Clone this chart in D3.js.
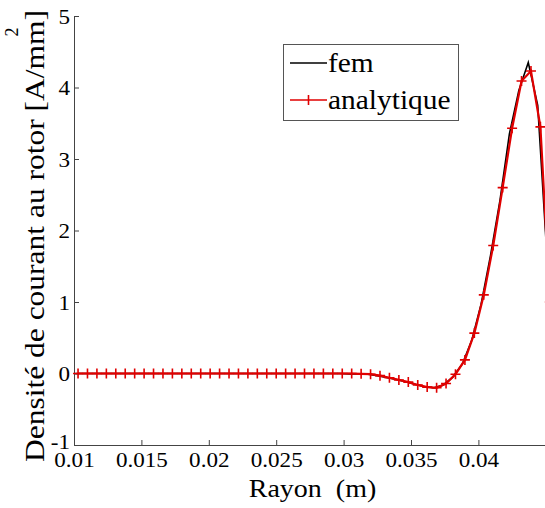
<!DOCTYPE html>
<html>
<head>
<meta charset="utf-8">
<script src="https://cdn.jsdelivr.net/npm/d3@7"></script>
<style>
  body { margin: 0; background: #fff; }
</style>
</head>
<body>
<script>
// sampled radii (m)
var radiusFem = [0.0101, 0.0108, 0.0115, 0.0122, 0.0129, 0.0136, 0.0143, 0.0150, 0.0157, 0.0164,
  0.0171, 0.0178, 0.0185, 0.0192, 0.0199, 0.0206, 0.0213, 0.0220, 0.0227, 0.0234,
  0.0241, 0.0248, 0.0255, 0.0262, 0.0269, 0.0276, 0.0283, 0.0290, 0.0297, 0.0304,
  0.0311, 0.0318, 0.0325, 0.0332, 0.0339, 0.0346, 0.0353, 0.0360, 0.0367, 0.0374,
  0.0381, 0.0388, 0.0395, 0.0402, 0.0409, 0.0416, 0.0423, 0.0430, 0.0437, 0.0444, 0.0451];
var densFem = [0, 0, 0, 0, 0, 0, 0, 0, 0, 0,
  0, 0, 0, 0, 0, 0, 0, 0, 0, 0,
  0, 0, 0, 0, 0, 0, 0, 0, 0, -0.005,
  -0.005, -0.01, -0.03, -0.055, -0.085, -0.115, -0.15, -0.185, -0.2, -0.16,
  -0.05, 0.13, 0.46, 0.97, 1.65, 2.42, 3.35, 3.96, 4.35, 3.75, 1.6];

var radiusAna = [0.0103, 0.0110, 0.0117, 0.0124, 0.0131, 0.0138, 0.0145, 0.0152, 0.0159, 0.0166,
  0.0173, 0.0180, 0.0187, 0.0194, 0.0201, 0.0208, 0.0215, 0.0222, 0.0229, 0.0236,
  0.0243, 0.0250, 0.0257, 0.0264, 0.0271, 0.0278, 0.0285, 0.0292, 0.0299, 0.0306,
  0.0313, 0.0320, 0.0327, 0.0334, 0.0341, 0.0348, 0.0355, 0.0362, 0.0369, 0.0376,
  0.0383, 0.0390, 0.0397, 0.0404, 0.0411, 0.0418, 0.0425, 0.0432, 0.0439, 0.0446, 0.0453];
var densAna = [0, 0, 0, 0, 0, 0, 0, 0, 0, 0,
  0, 0, 0, 0, 0, 0, 0, 0, 0, 0,
  0, 0, 0, 0, 0, 0, 0, 0, 0, 0,
  -0.005, -0.01, -0.03, -0.06, -0.09, -0.12, -0.16, -0.19, -0.2, -0.14,
  -0.01, 0.19, 0.565, 1.1, 1.79, 2.6, 3.43, 4.09, 4.23, 3.45, 1.0];

var xTicks = [0.01, 0.015, 0.02, 0.025, 0.03, 0.035, 0.04];
var xTickLabels = ["0.01", "0.015", "0.02", "0.025", "0.03", "0.035", "0.04"];
var yTicks = [-1, 0, 1, 2, 3, 4, 5];
var yTickLabels = ["-1", "0", "1", "2", "3", "4", "5"];
var seriesNames = ["fem", "analytique"];

var width = 545, height = 508;
var serif = "'Liberation Serif', 'Times New Roman', serif";

var x = d3.scaleLinear().domain([0.01, 0.045]).range([74, 545.8]);
var y = d3.scaleLinear().domain([-1, 5]).range([445, 16]);

var svg = d3.select("body").append("svg")
    .attr("width", width)
    .attr("height", height)
    .attr("font-family", serif);

// widen text a little, the picture is stretched sideways
function stretch(sel, f) {
  sel.each(function() {
    var w = this.getComputedTextLength();
    d3.select(this).attr("textLength", w * f).attr("lengthAdjust", "spacingAndGlyphs");
  });
}

// axes (MATLAB style, ticks inward, no box)
var xAxis = svg.append("g")
    .attr("transform", "translate(0," + y(-1) + ")")
    .call(d3.axisBottom(x).tickValues(xTicks).tickSizeInner(-5).tickSizeOuter(0)
      .tickFormat(function(d, i) { return xTickLabels[i]; }));
xAxis.attr("font-family", serif);
xAxis.select(".domain").attr("stroke", "#444").attr("d", "M" + x(0.01) + ",0.5H" + width);
xAxis.selectAll(".tick line").attr("stroke", "#444");
xAxis.selectAll(".tick text")
    .attr("y", 22).attr("dy", 0)
    .attr("font-family", serif)
    .style("font-family", serif)
    .style("font-size", "21px")
    .attr("fill", "#000");
stretch(xAxis.selectAll(".tick text"), 1.1);

var yAxis = svg.append("g")
    .attr("transform", "translate(" + x(0.01) + ",0)")
    .call(d3.axisLeft(y).tickValues(yTicks).tickSizeInner(-5).tickSizeOuter(0)
      .tickFormat(function(d, i) { return yTickLabels[i]; }));
yAxis.attr("font-family", serif);
yAxis.select(".domain").attr("stroke", "#444");
yAxis.selectAll(".tick line").attr("stroke", "#444");
yAxis.selectAll(".tick text")
    .attr("x", -4)
    .attr("dy", function(d) { return d === -1 ? "0.15em" : "0.35em"; })
    .attr("font-family", serif)
    .style("font-family", serif)
    .style("font-size", "21px")
    .attr("fill", "#000");
stretch(yAxis.selectAll(".tick text"), 1.1);

// curves
var line = d3.line()
    .x(function(d) { return x(d[0]); })
    .y(function(d) { return y(d[1]); });

var fem = d3.zip(radiusFem, densFem);
var ana = d3.zip(radiusAna, densAna);

svg.append("path")
    .datum(fem)
    .attr("fill", "none")
    .attr("stroke", "#000")
    .attr("stroke-width", 1.6)
    .attr("d", line);

svg.append("path")
    .datum(ana)
    .attr("fill", "none")
    .attr("stroke", "#e00000")
    .attr("stroke-width", 2.2)
    .attr("d", line);

svg.append("g").selectAll("path")
    .data(ana)
    .enter().append("path")
    .attr("transform", function(d) { return "translate(" + x(d[0]) + "," + y(d[1]) + ")"; })
    .attr("d", "M-5,0H5M0,-5V5")
    .attr("stroke", "#e00000")
    .attr("stroke-width", 1.6);

// axis titles
var xt = svg.append("text")
    .attr("x", (x(0.01) + 545) / 2 + 3)
    .attr("y", 497)
    .attr("text-anchor", "middle")
    .attr("xml:space", "preserve")
    .style("font-family", serif)
    .style("font-size", "25px")
    .text("Rayon  (m)");
stretch(xt, 1.12);

svg.append("text")
    .attr("transform", "translate(44,236) rotate(-90)")
    .attr("text-anchor", "middle")
    .style("font-family", serif)
    .style("font-size", "27px")
    .attr("textLength", 452)
    .attr("lengthAdjust", "spacingAndGlyphs")
    .text("Densité de courant au rotor [A/mm]");

svg.append("text")
    .attr("transform", "translate(18,32) rotate(-90)")
    .attr("text-anchor", "middle")
    .style("font-family", serif)
    .style("font-size", "18px")
    .text("2");

// legend
var lg = svg.append("g");
lg.append("rect")
    .attr("x", 283.5).attr("y", 44.5)
    .attr("width", 175).attr("height", 76)
    .attr("fill", "#fff")
    .attr("stroke", "#555");

var legendY = [63, 100];
lg.append("line")
    .attr("x1", 290).attr("x2", 327).attr("y1", legendY[0]).attr("y2", legendY[0])
    .attr("stroke", "#000").attr("stroke-width", 1.6);
lg.append("line")
    .attr("x1", 290).attr("x2", 327).attr("y1", legendY[1]).attr("y2", legendY[1])
    .attr("stroke", "#e00000").attr("stroke-width", 1.6);
lg.append("path")
    .attr("d", "M" + 308.5 + "," + (legendY[1] - 5) + "V" + (legendY[1] + 5))
    .attr("stroke", "#e00000").attr("stroke-width", 1.6);

lg.selectAll("text.leg")
    .data(seriesNames)
    .enter().append("text")
    .attr("class", "leg")
    .attr("x", 328)
    .attr("y", function(d, i) { return legendY[i] + 9; })
    .style("font-family", serif)
    .style("font-size", "27px")
    .text(function(d) { return d; });
stretch(lg.selectAll("text.leg"), 1.09);
</script>
</body>
</html>
